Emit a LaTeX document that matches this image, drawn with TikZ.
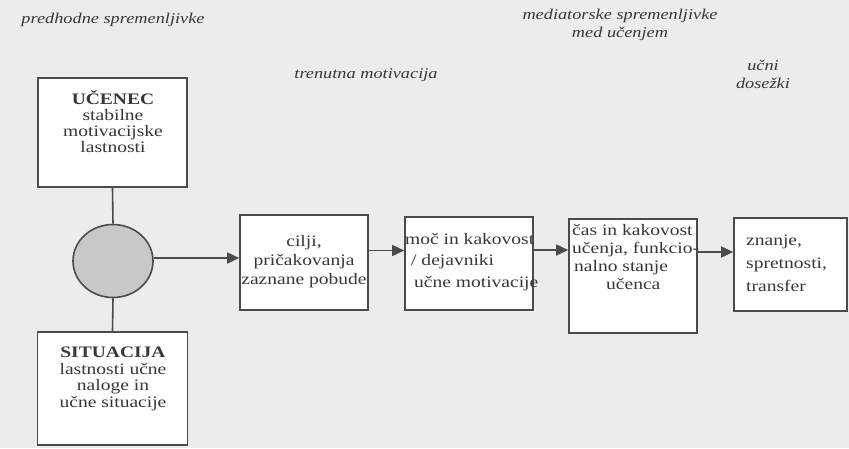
\documentclass[tikz,border=0pt]{standalone}
\usepackage{fontspec}
\setmainfont[FakeStretch=1.22]{Liberation Serif}
\usetikzlibrary{arrows.meta,shapes.geometric}
\definecolor{bg}{RGB}{236,236,236}
\definecolor{ink}{RGB}{55,55,55}
\definecolor{edge}{RGB}{75,75,75}
\definecolor{circfill}{RGB}{200,200,200}
\begin{document}
\begin{tikzpicture}[x=1pt,y=-1pt,
  box/.style={draw=edge,line width=1.6pt,fill=white,inner sep=0pt},
  txt/.style={text=ink,font=\fontsize{16}{16}\selectfont,inner sep=0pt},
  head/.style={text=ink,font=\fontsize{15}{18}\selectfont\itshape,inner sep=0pt,align=center},
  conn/.style={draw=edge,line width=1.6pt},
  arr/.style={conn,-{Triangle[length=12pt,width=11pt]}}]
\fill[bg] (0,0) rectangle (849,448);
\useasboundingbox (0,0) rectangle (849,448);
% headings
\node[head] (h1) at (113,20) {predhodne spremenljivke};
\node[head] (h2) at (366,75) {trenutna motivacija};
\node[head] (h3) at (620,25) {mediatorske spremenljivke\\med učenjem};
\node[head] (h4) at (763,74) {učni\\dosežki};
% boxes
\node[box,minimum width=149pt,minimum height=109pt] (uc) at (112.5,132.5) {};
\node[box,minimum width=150pt,minimum height=113pt] (sit) at (112.5,388.5) {};
\node[draw=edge,line width=1.6pt,fill=circfill,ellipse,minimum width=80pt,minimum height=73pt,inner sep=0pt] (circ) at (113,261) {};
\node[box,minimum width=128pt,minimum height=95pt] (b1) at (304,262.5) {};
\node[box,minimum width=128pt,minimum height=93pt] (b2) at (469,263.5) {};
\node[box,minimum width=128pt,minimum height=114pt] (b3) at (633,276) {};
\node[box,minimum width=113pt,minimum height=93pt] (b4) at (790.5,264.5) {};
% texts
\node[txt,align=center] (tuc) at (113,122) {{\bfseries UČENEC}\\stabilne\\motivacijske\\lastnosti};
\node[txt,align=center,font=\fontsize{16}{16.7}\selectfont] (tsit) at (113,379) {{\bfseries SITUACIJA}\\lastnosti učne\\naloge in\\učne situacije};
\node[txt,align=center,font=\fontsize{16}{19}\selectfont] (t1) at (304,262) {cilji,\\pričakovanja\\zaznane pobude};
\node[txt,align=left,anchor=west,font=\fontsize{16}{21.5}\selectfont] (t2) at (405,262) {moč in kakovost\\\hspace*{6pt}/ dejavniki\\\hspace*{9pt}učne motivacije};
\node[txt,align=left,anchor=west,font=\fontsize{16}{17.7}\selectfont] (t3) at (572,257) {čas in kakovost\\učenja, funkcio-\\\hspace*{2pt}nalno stanje\\\hspace*{34pt}učenca};
\node[txt,align=left,anchor=west,font=\fontsize{16}{23}\selectfont] (t4) at (746,263) {znanje,\\spretnosti,\\transfer};
% connectors
\draw[conn] (uc.south) -- (circ.north);
\draw[conn] (circ.south) -- (sit.north);
\draw[arr] ([yshift=3pt]circ.east) -- ([yshift=3pt]circ.east -| b1.west);
\draw[arr] ([yshift=12pt]b1.east) -- ([yshift=12pt]b1.east -| b2.west);
\draw[arr] ([yshift=13.5pt]b2.east) -- ([yshift=13.5pt]b2.east -| b3.west);
\draw[arr] ([yshift=24pt]b3.east) -- ([yshift=24pt]b3.east -| b4.west);
\end{tikzpicture}
\end{document}
